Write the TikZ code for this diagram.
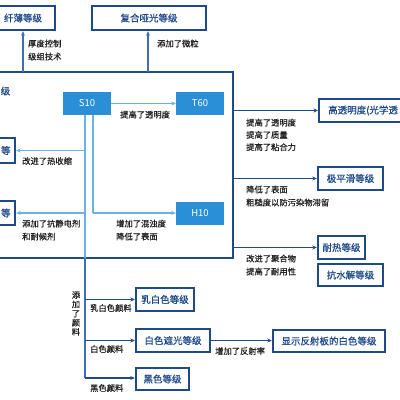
\documentclass[tikz,border=0pt]{standalone}
\usepackage{fontspec}
\setmainfont{Noto Sans CJK SC}
\newfontfamily\medfont{Noto Sans CJK SC}[FakeBold=0.7]
\usetikzlibrary{arrows.meta}
\definecolor{navy}{HTML}{1F4A8A}
\definecolor{fillblue}{HTML}{2A8FD6}
\definecolor{lightline}{HTML}{6AB2E2}
\definecolor{midline}{HTML}{3F6FAF}
\definecolor{labelgray}{HTML}{222222}
\tikzset{
  gradebox/.style={draw=navy, line width=2.4pt, fill=white, text=navy, inner sep=0pt,
    font=\medfont\fontsize{9.5}{11}\selectfont},
  filledbox/.style={fill=fillblue, text=white, inner sep=0pt, minimum width=48pt, minimum height=23pt,
    font=\fontsize{9.5}{11}\selectfont},
  lbl/.style={text=labelgray, inner sep=0pt, align=left, anchor=north west,
    font=\medfont\fontsize{8.3}{13}\selectfont},
  darkarrow/.style={draw=navy, line width=1.3pt, -{Stealth[length=4.5pt,width=4pt]}},
  lightarrow/.style={draw=lightline, line width=1.3pt, -{Stealth[length=4.5pt,width=4pt]}},
  midarrow/.style={draw=midline, line width=1.3pt, -{Stealth[length=4.5pt,width=4pt]}},
}
\begin{document}
\begin{tikzpicture}[x=1pt,y=-1pt]
\useasboundingbox (0,0) rectangle (400,400);
\clip (0,0) rectangle (400,400);
% main frame
\draw[navy, line width=1.8pt] (-20,72) rectangle (233,258);
\node[text=navy, inner sep=0pt, anchor=east, font=\medfont\fontsize{9.5}{11}\selectfont] (genlbl) at (10.5,91) {级};

% top boxes
\node[gradebox, minimum width=64pt, minimum height=24pt] (thin) at (23,18) {纤薄等级};
\node[gradebox, minimum width=114pt, minimum height=24pt] (matte) at (149,18) {复合哑光等级};
\coordinate (thinS) at (23,72);
\coordinate (matteS) at (148,72);
\draw[midarrow] (thinS) -- (thin.south -| thinS);
\draw[midarrow] (matteS) -- (matte.south -| matteS);
\node[lbl] (lthin) at (28,39.5) {厚度控制\\级组技术};
\node[lbl] (lmatte) at (157,39.5) {添加了微粒};

% filled boxes
\node[filledbox] (S10) at (87,103.5) {S10};
\node[filledbox] (T60) at (200,103.5) {T60};
\node[filledbox] (H10) at (200,213) {H10};
\draw[lightarrow] (S10.east) -- (T60.west);
\node[lbl] (lt60) at (120,110.5) {提高了透明度};

% left boxes
\node[gradebox, minimum width=55pt, minimum height=25pt] (left1) at (-12.5,150.5) {};
\node[text=navy, inner sep=0pt, font=\medfont\fontsize{9.5}{11}\selectfont] (left1t) at (5.8,150.5) {等};
\node[gradebox, minimum width=55pt, minimum height=24pt] (left2) at (-12.5,213) {};
\node[text=navy, inner sep=0pt, font=\medfont\fontsize{9.5}{11}\selectfont] (left2t) at (5.8,213) {等};

% verticals from S10
\coordinate (v1top) at (85,115);
\coordinate (v2top) at (93,115);
\coordinate (v1mid) at (85,258);
\coordinate (v1bot) at (85,378);
\coordinate (v2bend) at (93,213);
\coordinate (v1a) at (85,150.5);
\coordinate (v1b) at (85,213);
\draw[lightline, line width=1.3pt] (v1top) -- (v1mid);
\draw[midline, line width=1.3pt] (v1mid) -- (v1bot);
\draw[lightline, line width=1.3pt] (v2top) -- (v2bend);
\draw[lightarrow] (v2bend) -- (H10.west);
\draw[lightarrow] (v1b) -- (left2.east);
\draw[lightarrow] (v1a) -- (left1.east);
\node[lbl] (lleft1) at (22,157) {改进了热收缩};
\node[lbl] (lleft2) at (22,219.5) {添加了抗静电剂\\和耐候剂};
\node[lbl] (lh10) at (116,219.5) {增加了混浊度\\降低了表面};

% right boxes
\node[gradebox, minimum height=23pt, anchor=west, inner xsep=9pt] (clear) at (318,110.5) {高透明度(光学透};
\node[gradebox, minimum width=65pt, minimum height=23pt] (smooth) at (350.5,178.5) {极平滑等级};
\node[gradebox, minimum width=47pt, minimum height=23pt] (heat) at (341.5,247.5) {耐热等级};
\node[gradebox, minimum width=65pt, minimum height=22pt] (hydro) at (350.5,275) {抗水解等级};
\coordinate (r1) at (233,110.5);
\coordinate (r2) at (233,178.5);
\coordinate (r3) at (233,247.5);
\draw[darkarrow] (r1) -- (clear.west);
\draw[darkarrow] (r2) -- (smooth.west);
\draw[darkarrow] (r3) -- (heat.west);
\node[lbl, font=\medfont\fontsize{8.3}{12.3}\selectfont] (lclear) at (246,118.5) {提高了透明度\\提高了质量\\提高了粘合力};
\node[lbl] (lsmooth) at (246,185.5) {降低了表面\\粗糙度以防污染物滞留};
\node[lbl] (lheat) at (246,254.5) {改进了聚合物\\提高了耐用性};

% pigment branch
\node[text=labelgray, inner sep=0pt, align=center, font=\medfont\fontsize{8.3}{9.2}\selectfont] (lpig) at (76,313.5) {添\\加\\了\\颜\\料};
\node[gradebox, minimum width=58pt, minimum height=23pt] (milky) at (165,299.5) {乳白色等级};
\node[gradebox, minimum width=74pt, minimum height=23pt] (wopaque) at (173,340.5) {白色遮光等级};
\node[gradebox, minimum width=53pt, minimum height=22pt] (blackb) at (162.5,379) {黑色等级};
\node[gradebox, minimum width=112pt, minimum height=22pt] (reflect) at (329,341) {显示反射板的白色等级};
\coordinate (p1) at (85,299.5);
\coordinate (p2) at (85,340.5);
\draw[darkarrow] (p1) -- (milky.west);
\draw[darkarrow] (p2) -- (wopaque.west);
\draw[darkarrow] (v1bot) -- (blackb.west |- v1bot);
\draw[darkarrow] (wopaque.east) -- (reflect.west |- wopaque.east);
\node[lbl] (lmilky) at (90,304) {乳白色颜料};
\node[lbl] (lwhite) at (90,345) {白色颜料};
\node[lbl] (lblack) at (90,384) {黑色颜料};
\node[lbl] (lreflect) at (215,347) {增加了反射率};
\end{tikzpicture}
\end{document}
